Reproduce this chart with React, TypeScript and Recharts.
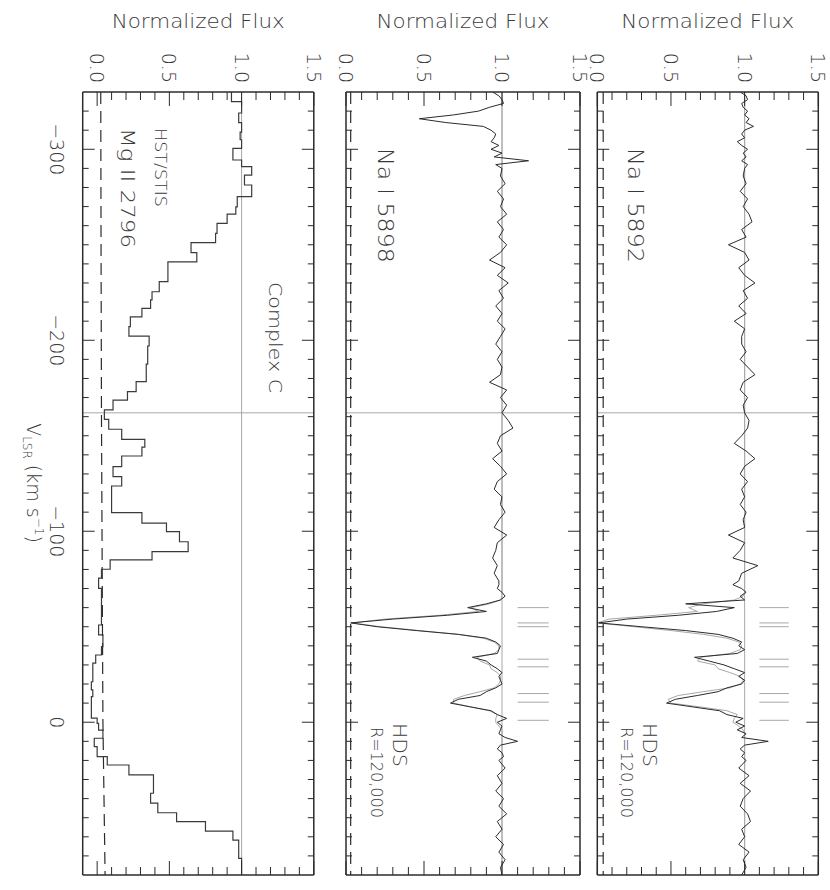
import React from 'react';
import { LineChart, Line, XAxis, YAxis, ReferenceLine } from 'recharts';

// HDS velocity grid (km/s), shared by both Na I spectra
const naVel = [
  -330, -328, -326, -324, -322, -320, -318, -316, -314, -312,
  -310, -308, -306, -304, -302, -300, -298, -296, -294, -292,
  -290, -286, -282, -278, -274, -270, -266, -262, -258, -254,
  -250, -246, -242, -238, -234, -230, -226, -222, -218, -214,
  -210, -206, -202, -198, -194, -190, -186, -182, -178, -174,
  -170, -166, -162, -158, -154, -150, -146, -142, -138, -134,
  -130, -126, -122, -118, -114, -110, -106, -102, -98, -94,
  -90, -86, -82, -78, -74, -72, -70, -68, -66, -64,
  -62, -60, -58, -56, -54, -52, -50, -48, -46, -44,
  -42, -40, -38, -36, -34, -32, -30, -28, -26, -24,
  -22, -20, -18, -16, -14, -12, -10, -8, -6, -4,
  -2, 0, 2, 4, 6, 8, 10, 12, 14, 16,
  18, 20, 24, 28, 32, 36, 40, 44, 48, 52,
  56, 60, 64, 68, 72, 76, 80,
];

const na5892Flux = [
  0.97, 1.01, 1.02, 0.98, 0.99, 1.02, 1.0, 1.03, 1.01, 1.06,
  1.0, 0.98, 1.0, 0.95, 0.98, 1.02, 0.99, 1.01, 0.98, 1.02,
  1.0, 0.99, 1.01, 0.97, 1.02, 0.99, 1.03, 1.05, 0.98, 1.01,
  0.89, 1.0, 1.03, 0.96, 1.0, 1.07, 0.99, 1.02, 0.96, 1.01,
  0.93, 1.0, 0.98, 0.98, 1.01, 0.97, 1.02, 1.07, 0.99, 0.97,
  1.02, 0.99, 1.0, 1.03, 1.02, 0.98, 0.93, 1.01, 1.07, 1.0,
  0.97, 1.02, 0.98, 1.0, 0.97, 1.01, 0.99, 1.0, 0.89, 1.0,
  0.97, 0.92, 1.09, 0.98, 0.96, 0.92, 0.98, 1.01, 0.97, 1.0,
  0.6, 0.93, 0.81, 0.55, 0.2, 0.01, 0.3, 0.6, 0.82, 0.92,
  0.98, 0.96, 1.0, 0.95, 0.66, 0.76, 0.86, 0.93, 1.0, 0.96,
  1.0, 0.98, 0.88, 0.82, 0.68, 0.53, 0.47, 0.65, 0.83, 0.88,
  0.99, 0.94, 1.0, 0.95, 1.01, 0.98, 1.16, 1.0, 0.97, 1.0,
  0.98, 1.01, 0.96, 1.03, 0.97, 1.04, 0.99, 0.97, 1.02, 1.04,
  0.98, 1.0, 0.96, 1.03, 0.99, 1.01, 0.98,
];

const na5898Flux = [
  0.94, 0.98, 1.0, 1.01, 0.92, 0.85, 0.69, 0.47, 0.64, 0.88,
  0.93, 0.96, 0.95, 0.93, 0.98, 0.93, 1.0, 0.95, 1.17, 0.96,
  1.0, 0.99, 1.02, 0.97, 1.01, 0.99, 1.03, 0.97, 1.01, 0.98,
  1.03, 0.99, 0.92, 1.02, 0.97, 1.04, 0.98, 1.01, 0.96, 1.0,
  0.97, 1.02, 0.99, 0.96, 1.0, 0.97, 1.0, 0.99, 0.92, 1.03,
  0.99, 1.03, 1.0, 1.04, 1.07, 0.99, 0.97, 1.0, 0.94, 0.99,
  1.03, 0.97, 0.95, 1.0, 0.99, 1.02, 0.98, 0.95, 1.03, 0.97,
  0.96, 0.94, 0.97, 0.95, 0.98, 0.98, 0.97, 1.0, 1.02, 0.99,
  0.9, 0.78, 0.9, 0.65, 0.3, 0.03, 0.2, 0.45, 0.72, 0.9,
  0.96, 0.99, 0.98, 0.97, 0.81, 0.9, 0.93, 0.97, 1.0, 0.98,
  0.99, 1.0, 0.96, 0.9, 0.86, 0.72, 0.67, 0.8, 0.93, 0.97,
  1.03, 0.97, 1.0, 0.99, 0.98, 1.02, 1.1, 0.99, 0.97, 1.0,
  1.01, 0.98, 1.02, 0.97, 1.0, 0.96, 1.01, 0.98, 1.03, 0.97,
  1.0, 0.96, 1.01, 0.98, 1.02, 0.99, 1.0,
];

// component fits (grey)
const fitVel = [
  -330, -70, -68, -66, -64, -62, -60, -58, -56, -54,
  -52, -50, -48, -46, -44, -42, -40, -38, -36, -34,
  -32, -30, -28, -26, -24, -22, -20, -18, -16, -14,
  -12, -10, -8, -6, -4, -2, 0, 2, 4, 6,
  80,
];
const fit5892 = [
  1, 1, 1, 0.99, 0.93, 0.72, 0.62, 0.68, 0.4, 0.08,
  0, 0.25, 0.5, 0.72, 0.88, 0.96, 0.98, 0.97, 0.9, 0.7,
  0.68, 0.8, 0.82, 0.9, 0.97, 0.99, 0.97, 0.9, 0.72, 0.55,
  0.48, 0.5, 0.7, 0.88, 0.95, 0.93, 0.92, 0.96, 0.99, 1,
  1,
];
const fit5898 = [
  1, 1, 1, 1, 0.99, 0.92, 0.8, 0.85, 0.6, 0.25,
  0.04, 0.22, 0.47, 0.72, 0.88, 0.95, 0.98, 0.98, 0.95, 0.84,
  0.86, 0.92, 0.93, 0.97, 0.99, 0.99, 0.98, 0.95, 0.86, 0.76,
  0.69, 0.69, 0.8, 0.92, 0.97, 0.96, 0.96, 0.98, 1, 1,
  1,
];

const naErrVel = [-330, 80];
const na5892Err = [0.04, 0.04];
const na5898Err = [0.03, 0.03];

// HST/STIS Mg II 2796 bins (start velocity, flux)
const mgVel = [
  -330, -325, -319, -314, -309, -305, -300.5, -294.4, -290.9, -286.5,
  -281.3, -275.2, -269.9, -266.1, -261.2, -256, -251.1, -245.9, -241, -235.7,
  -230.7, -225.4, -221.1, -216.7, -212.3, -207.1, -202.2, -197, -192.3, -187.5,
  -182.7, -178.3, -173.1, -168.7, -163.5, -158.6, -153.4, -148.1, -144, -139.4,
  -133.8, -128.6, -123.7, -118.9, -114.3, -109.7, -104.2, -99.8, -94.5, -89.3,
  -85, -80.1, -75.4, -70.1, -65.3, -60.5, -55.7, -50.9, -45.7, -39.6,
  -35.2, -30.9, -26, -21.2, -16.9, -13.4, -9.9, -6, -2.1, 0.6,
  4.1, 8.4, 12.8, 18, 22.4, 27.6, 32.4, 37.2, 42.4, 47.4,
  52.1, 57, 61.7, 66.5, 71.3, 80,
];
const mgFlux = [
  0.93, 1.0, 0.98, 1.0, 0.99, 1.0, 0.94, 1.0, 1.07, 1.02,
  1.07, 0.97, 0.96, 0.9, 0.83, 0.82, 0.65, 0.69, 0.49, 0.49,
  0.43, 0.38, 0.37, 0.31, 0.23, 0.22, 0.36, 0.35, 0.35, 0.34,
  0.34, 0.27, 0.21, 0.11, 0.05, 0.08, 0.17, 0.33, 0.31, 0.17,
  0.11, 0.17, 0.1, 0.1, 0.1, 0.31, 0.48, 0.57, 0.63, 0.38,
  0.09, 0.03, 0.01, 0.03, 0.03, 0.03, 0.03, 0.01, 0.04, 0.03,
  -0.01, -0.03, -0.03, -0.04, -0.03, -0.04, -0.04, -0.04, 0.0, 0.01,
  0.04, -0.02, 0.0, 0.07, 0.22, 0.39, 0.39, 0.37, 0.42, 0.55,
  0.75, 0.94, 0.98, 0.98, 1.0, 1.0,
];
const mgErrVel = [-330, -250, -160, -80, 0, 80];
const mgErr = [0.025, 0.027, 0.03, 0.035, 0.04, 0.055];

const componentVel = [-60, -52, -50, -33, -29, -15, -10.5, -1];
const complexCVel = -162;

const velMajor = [-300, -200, -100, 0];
const fluxMajor = [0, 0.5, 1, 1.5];

const W = 890;
const H = 830;
const X0 = 92;
const X1 = 875;
const INK = '#2b2b2b';
const TXT = '#3a3a3a';
const GREY = '#a8a8a8';
const FONT = '"DejaVu Sans", Verdana, sans-serif';
const WEIGHT = 200;

const velTicks: number[] = [];
for (let v = -320; v <= 70; v += 10) velTicks.push(v);
const fluxTicks: number[] = [];
for (let i = 0; i <= 15; i++) fluxTicks.push(i / 10);

const pts = (xs: number[], ys: number[]) => xs.map((v, i) => ({ v, f: ys[i] }));
const fmtVel = (v: number) => (v < 0 ? '\u2212' + Math.abs(v) : String(v));
const isMajorFlux = (f: number) => fluxMajor.some((m) => Math.abs(m - f) < 1e-6);

// inward ticks, IDL style
const velTick = (side: 'top' | 'bottom', labels: boolean) => (p: any) => {
  const v = p.payload.value;
  const major = velMajor.includes(v);
  const dir = side === 'bottom' ? -1 : 1;
  const len = major ? 12 : 6;
  return (
    <g>
      <line x1={p.x} x2={p.x} y1={p.y} y2={p.y + dir * len} stroke={INK} strokeWidth={1} />
      {labels && major && (
        <text x={p.x} y={p.y + 26} textAnchor="middle" dominantBaseline="central"
          fontFamily={FONT} fontWeight={WEIGHT} fontSize={19} fill={TXT}>
          {fmtVel(v)}
        </text>
      )}
    </g>
  );
};

const fluxTick = (side: 'left' | 'right') => (p: any) => {
  const f = p.payload.value;
  const major = isMajorFlux(f);
  const dir = side === 'left' ? 1 : -1;
  const len = major ? 14 : 8;
  return (
    <g>
      <line x1={p.x} x2={p.x + dir * len} y1={p.y} y2={p.y} stroke={INK} strokeWidth={1} />
      {side === 'left' && major && (
        <text x={p.x - 9} y={p.y} textAnchor="end" dominantBaseline="central"
          fontFamily={FONT} fontWeight={WEIGHT} fontSize={19} fill={TXT}>
          {f.toFixed(1)}
        </text>
      )}
    </g>
  );
};

interface PanelProps {
  top: number;
  bottom: number;
  yMin: number;
  velLabels?: boolean;
  children?: React.ReactNode;
}

function Panel({ top, bottom, yMin, velLabels = false, children }: PanelProps) {
  const frame = { stroke: INK, strokeWidth: 1.5 };
  return (
    <div style={{ position: 'absolute', left: 0, top: 0 }}>
      <LineChart width={W} height={H}
        margin={{ top: top - 1, bottom: H - bottom - 1, left: X0 - 1, right: W - X1 - 1 }}>
        <XAxis xAxisId="b" type="number" dataKey="v" domain={[-330, 80]} allowDataOverflow
          ticks={velTicks} interval={0} height={1} tickSize={0} tickMargin={0}
          tickLine={false} axisLine={frame} tick={velTick('bottom', velLabels)} />
        <XAxis xAxisId="t" orientation="top" type="number" dataKey="v" domain={[-330, 80]} allowDataOverflow
          ticks={velTicks} interval={0} height={1} tickSize={0} tickMargin={0}
          tickLine={false} axisLine={frame} tick={velTick('top', false)} />
        <YAxis yAxisId="l" type="number" domain={[yMin, 1.5]} allowDataOverflow
          ticks={fluxTicks} interval={0} width={1} tickSize={0} tickMargin={0}
          tickLine={false} axisLine={frame} tick={fluxTick('left')} />
        <YAxis yAxisId="r" orientation="right" type="number" domain={[yMin, 1.5]} allowDataOverflow
          ticks={fluxTicks} interval={0} width={1} tickSize={0} tickMargin={0}
          tickLine={false} axisLine={frame} tick={fluxTick('right')} />
        <ReferenceLine xAxisId="b" yAxisId="l" y={1} stroke={GREY} strokeWidth={1} />
        <ReferenceLine xAxisId="b" yAxisId="l" x={complexCVel} stroke={GREY} strokeWidth={1} />
        {children}
      </LineChart>
    </div>
  );
}

const lineProps = {
  xAxisId: 'b',
  yAxisId: 'l',
  dataKey: 'f',
  dot: false,
  activeDot: false,
  isAnimationActive: false,
} as const;

const componentMarks = componentVel.map((v) => (
  <ReferenceLine key={`c${v}`} xAxisId="b" yAxisId="l"
    segment={[{ x: v, y: 1.1 }, { x: v, y: 1.3 }]} stroke={GREY} strokeWidth={1} />
));

const txt = { fontFamily: FONT, fontWeight: WEIGHT, fill: TXT, dominantBaseline: 'central' as const };
const panelCenters = [122.2, 367, 631.8];

export default function App() {
  return (
    <div style={{ position: 'absolute', left: 0, top: 0, width: 830, height: 890, overflow: 'hidden', background: '#fff' }}>
      <div style={{ position: 'absolute', left: 0, top: 0, width: W, height: H, transformOrigin: '0 0', transform: `translate(${H}px, 0px) rotate(90deg)` }}>
        <Panel top={11.7} bottom={232.7} yMin={0}>
          <Line {...lineProps} data={pts(naErrVel, na5892Err)} stroke={INK} strokeWidth={1.2} strokeDasharray="12 7" />
          <Line {...lineProps} data={pts(fitVel, fit5892)} stroke={GREY} strokeWidth={1} />
          <Line {...lineProps} data={pts(naVel, na5892Flux)} stroke={INK} strokeWidth={1} />
          {componentMarks}
        </Panel>
        <Panel top={250} bottom={484} yMin={0}>
          <Line {...lineProps} data={pts(naErrVel, na5898Err)} stroke={INK} strokeWidth={1.2} strokeDasharray="12 7" />
          <Line {...lineProps} data={pts(fitVel, fit5898)} stroke={GREY} strokeWidth={1} />
          <Line {...lineProps} data={pts(naVel, na5898Flux)} stroke={INK} strokeWidth={1} />
          {componentMarks}
        </Panel>
        <Panel top={516.2} bottom={747.3} yMin={-0.1} velLabels>
          <Line {...lineProps} data={pts(mgErrVel, mgErr)} stroke={INK} strokeWidth={1.2} strokeDasharray="12 7" />
          <Line {...lineProps} type="stepAfter" data={pts(mgVel, mgFlux)} stroke="#3a3a3a" strokeWidth={1.2} />
        </Panel>

        <svg width={W} height={H} style={{ position: 'absolute', left: 0, top: 0 }}>
          {panelCenters.map((c) => (
            <text key={c} {...txt} x={21} y={c} textAnchor="middle" fontSize={19}
              textLength={173} lengthAdjust="spacingAndGlyphs" transform={`rotate(-90 21 ${c})`}>
              Normalized Flux
            </text>
          ))}
          <text {...txt} x={148} y={195} fontSize={21} textLength={115} lengthAdjust="spacingAndGlyphs">Na I 5892</text>
          <text {...txt} x={723} y={180} fontSize={19} textLength={44} lengthAdjust="spacingAndGlyphs">HDS</text>
          <text {...txt} x={727} y={204} fontSize={16} textLength={91} lengthAdjust="spacingAndGlyphs">R=120,000</text>
          <text {...txt} x={148} y={445} fontSize={21} textLength={115} lengthAdjust="spacingAndGlyphs">Na I 5898</text>
          <text {...txt} x={723} y={430} fontSize={19} textLength={44} lengthAdjust="spacingAndGlyphs">HDS</text>
          <text {...txt} x={727} y={454} fontSize={16} textLength={91} lengthAdjust="spacingAndGlyphs">R=120,000</text>
          <text {...txt} x={128} y={670} fontSize={15} textLength={79} lengthAdjust="spacingAndGlyphs">HST/STIS</text>
          <text {...txt} x={128} y={702} fontSize={20} textLength={120} lengthAdjust="spacingAndGlyphs">Mg II 2796</text>
          <text {...txt} x={282} y={555} fontSize={18} textLength={111} lengthAdjust="spacingAndGlyphs">Complex C</text>
          <text fontFamily={FONT} fontWeight={WEIGHT} fill={TXT} x={483} y={803} textAnchor="middle" fontSize={19}>
            V<tspan fontSize={12} dy={4}>LSR</tspan>
            <tspan dy={-4}> (km s</tspan>
            <tspan fontSize={12} dy={-8}>{'\u22121'}</tspan>
            <tspan dy={8}>)</tspan>
          </text>
        </svg>
      </div>
    </div>
  );
}
